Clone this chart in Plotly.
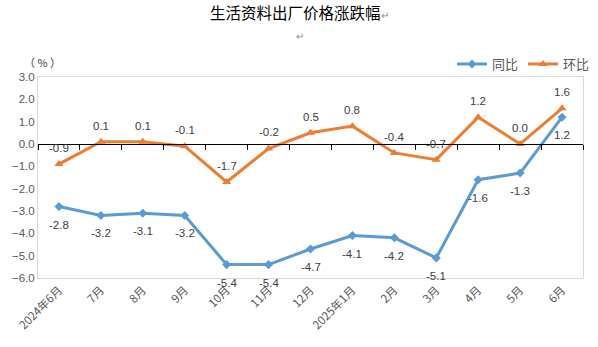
import plotly.graph_objects as go

# Month categories (June 2024 – June 2025)
months = ["2024年6月", "7月", "8月", "9月", "10月", "11月", "12月",
          "2025年1月", "2月", "3月", "4月", "5月", "6月"]

# Year-on-year change of consumer-goods producer prices (%)
yoy = [-2.8, -3.2, -3.1, -3.2, -5.4, -5.4, -4.7, -4.1, -4.2, -5.1, -1.6, -1.3, 1.2]
# Month-on-month change (%)
mom = [-0.9, 0.1, 0.1, -0.1, -1.7, -0.2, 0.5, 0.8, -0.4, -0.7, 1.2, 0.0, 1.6]

y_ticks = [3, 2, 1, 0, -1, -2, -3, -4, -5, -6]

BLUE = "#5B9BD5"
ORANGE = "#ED7D31"
TXT = "#404040"
FONT = "Liberation Sans, Noto Sans CJK SC, sans-serif"
CJK = "Noto Sans CJK SC, sans-serif"

fig = go.Figure()

fig.add_trace(go.Scatter(
    x=months, y=yoy, name="同比", mode="lines+markers",
    line=dict(color=BLUE, width=3),
    marker=dict(symbol="diamond", size=7, color=BLUE),
))
fig.add_trace(go.Scatter(
    x=months, y=mom, name="环比", mode="lines+markers",
    line=dict(color=ORANGE, width=3),
    marker=dict(symbol="triangle-up", size=8, color=ORANGE),
))
# helper trace that gives the zero-line axis its categories
fig.add_trace(go.Scatter(
    x=months, y=[0] * len(months), xaxis="x2", mode="lines",
    line=dict(width=0), opacity=0, showlegend=False, hoverinfo="skip",
))

annotations = []
for m, v in zip(months, yoy):
    annotations.append(dict(x=m, y=v, text=f"{v:.1f}", showarrow=False,
                            yshift=-18, font=dict(size=11.5, color=TXT, family=FONT)))
for m, v in zip(months, mom):
    annotations.append(dict(x=m, y=v, text=f"{v:.1f}", showarrow=False,
                            yshift=16, font=dict(size=11.5, color=TXT, family=FONT)))

# title, unit and layout marks
annotations += [
    dict(xref="paper", yref="paper", x=0.48, y=1, xanchor="center",
         yanchor="bottom", yshift=52, showarrow=False,
         text="生活资料出厂价格涨跌幅<span style='font-size:10px;color:#8c8c8c'>↵</span>",
         font=dict(size=15.5, color="#000000", family=CJK)),
    dict(xref="paper", yref="paper", x=0.48, y=1, xanchor="center",
         yanchor="bottom", yshift=32, showarrow=False, text="↵",
         font=dict(size=10, color="#8c8c8c", family=CJK)),
    dict(xref="paper", yref="paper", x=0, y=1, xanchor="center",
         yanchor="bottom", yshift=5, xshift=4, showarrow=False,
         text="（ % ）",
         font=dict(size=11, color=TXT, family=CJK)),
]

fig.update_layout(
    width=598, height=347,
    margin=dict(l=38, r=15, t=77, b=69, autoexpand=False),
    paper_bgcolor="white", plot_bgcolor="white",
    showlegend=True,
    legend=dict(orientation="h", xref="container", yref="container",
                x=0.995, y=1 - 64 / 347, xanchor="right", yanchor="middle",
                font=dict(size=13, color="#595959", family=CJK),
                itemwidth=30, tracegroupgap=0, bgcolor="rgba(0,0,0,0)"),
    xaxis=dict(type="category", categoryorder="array", categoryarray=months,
               range=[-0.5, len(months) - 0.5], automargin=False,
               showgrid=False, zeroline=False, ticks="",
               showline=True, linecolor="#d9d9d9", linewidth=1, mirror=True,
               tickangle=-45, tickfont=dict(size=11.5, color="#595959", family=CJK)),
    xaxis2=dict(type="category", categoryorder="array", categoryarray=months,
                overlaying="x", anchor="free", position=6 / 9, side="bottom",
                range=[-0.5, len(months) - 0.5], automargin=False,
                showgrid=False, zeroline=False, showticklabels=False,
                showline=True, linecolor="#000000", linewidth=1,
                ticks="outside", ticklen=5, tickcolor="#000000",
                tickson="boundaries"),
    yaxis=dict(range=[-6, 3], tickvals=y_ticks, tickformat=".1f", automargin=False,
               showgrid=False, zeroline=False, ticks="",
               showline=True, linecolor="#d9d9d9", linewidth=1, mirror=True,
               tickfont=dict(size=11.5, color="#595959", family=FONT)),
    annotations=annotations,
)

fig.write_html("out.html")
